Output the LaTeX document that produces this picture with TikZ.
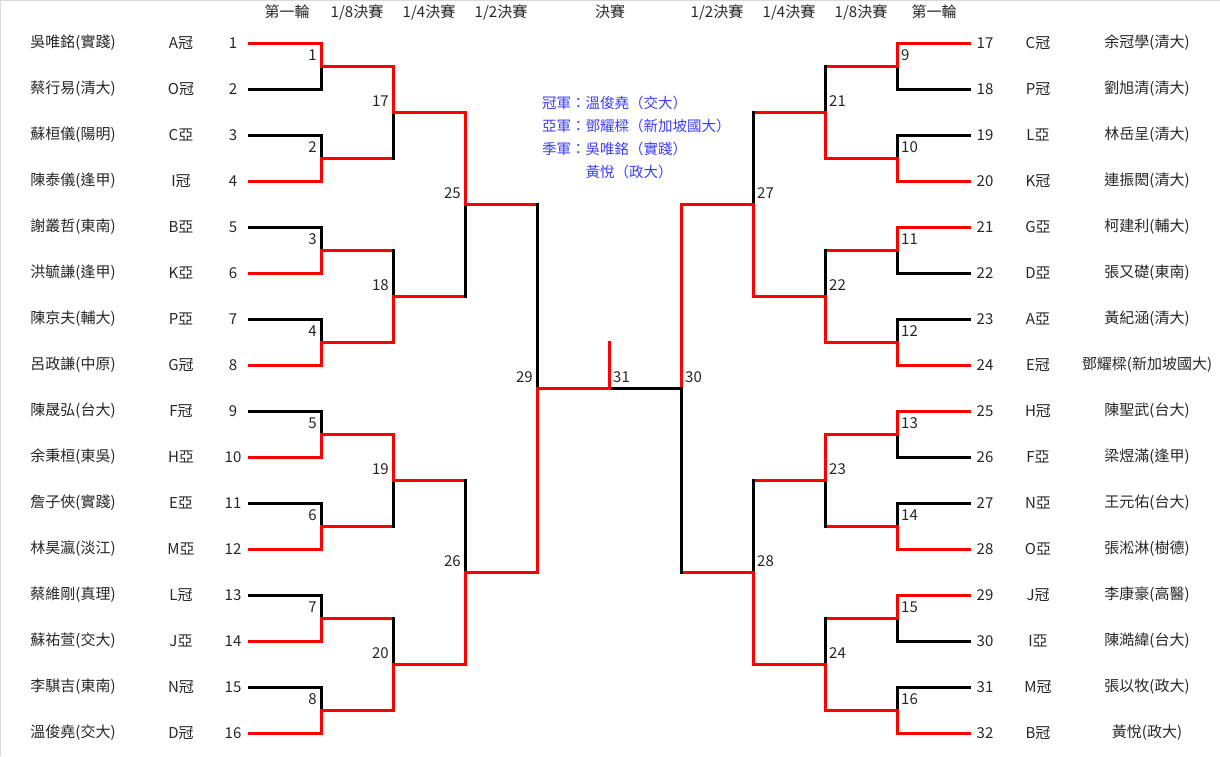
\documentclass[tikz,border=0pt]{standalone}
\usepackage{fontspec}
\setmainfont{Noto Sans CJK TC}
\definecolor{medal}{RGB}{60,60,255}
\tikzset{
  win/.style={draw=red, line width=3pt, line cap=rect},
  lose/.style={draw=black, line width=3pt, line cap=rect},
  frame/.style={draw=black!15, line width=2pt},
  txt/.style={text=black!85, inner sep=0pt, font=\fontsize{15}{18}\selectfont},
  lbl/.style={txt, font=\fontsize{15}{17}\selectfont},
  podium/.style={text=medal, inner sep=0pt, anchor=west, font=\fontsize{14.5}{17}\selectfont},
}

\begin{document}
\begin{tikzpicture}[x=1pt,y=-1pt]
          \useasboundingbox (0,0) rectangle (1220,756);
          \draw[frame] (0,756) -- (0,0) -- (1220,0);
          % round headings
          \node[txt] (hL1) at (287,12) {第一輪};
          \node[txt] (hL2) at (357,12) {1/8決賽};
          \node[txt] (hL3) at (429,12) {1/4決賽};
          \node[txt] (hL4) at (501,12) {1/2決賽};
          \node[txt] (hF)  at (610,12) {決賽};
          \node[txt] (hR4) at (717,12) {1/2決賽};
          \node[txt] (hR3) at (789,12) {1/4決賽};
          \node[txt] (hR2) at (861,12) {1/8決賽};
          \node[txt] (hR1) at (934,12) {第一輪};
          % match junctions, left half
          \foreach \m/\x/\y in {1/321/66, 2/321/158, 3/321/250, 4/321/342, 5/321/434, 6/321/526, 7/321/618, 8/321/710,
                                17/393/112, 18/393/296, 19/393/480, 20/393/664, 25/465/204, 26/465/572, 29/537/388}{
            \coordinate (m\m) at (\x,\y);
            \node[lbl, anchor=east] (n\m) at (\x-4,\y-11) {\m};
          }
          % match junctions, right half
          \foreach \m/\x/\y in {9/897/66, 10/897/158, 11/897/250, 12/897/342, 13/897/434, 14/897/526, 15/897/618, 16/897/710,
                                21/825/112, 22/825/296, 23/825/480, 24/825/664, 27/753/204, 28/753/572, 30/681/388, 31/609/388}{
            \coordinate (m\m) at (\x,\y);
            \node[lbl, anchor=west] (n\m) at (\x+4,\y-11) {\m};
          }
          % players, left half
          \foreach \i/\who/\seed/\c in {1/吳唯銘(實踐)/A冠/win, 2/蔡行易(清大)/O冠/lose, 3/蘇桓儀(陽明)/C亞/lose, 4/陳泰儀(逢甲)/I冠/win,
                                        5/謝叢哲(東南)/B亞/lose, 6/洪毓謙(逢甲)/K亞/win, 7/陳京夫(輔大)/P亞/lose, 8/呂政謙(中原)/G冠/win,
                                        9/陳晟弘(台大)/F冠/lose, 10/余秉桓(東吳)/H亞/win, 11/詹子俠(實踐)/E亞/lose, 12/林昊瀛(淡江)/M亞/win,
                                        13/蔡維剛(真理)/L冠/lose, 14/蘇祐萱(交大)/J亞/win, 15/李騏吉(東南)/N冠/lose, 16/溫俊堯(交大)/D冠/win}{
            \pgfmathsetmacro\y{43+46*(\i-1)}
            \pgfmathtruncatemacro\k{(\i+1)/2}
            \node[txt] (who\i) at (73,\y) {\who};
            \node[txt] (seed\i) at (181,\y) {\seed};
            \node[lbl] (num\i) at (233,\y) {\i};
            \coordinate (e\i) at (249,\y);
            \draw[\c] (e\i) -| (m\k);
          }
          % players, right half
          \foreach \i/\who/\seed/\c in {17/余冠學(清大)/C冠/win, 18/劉旭清(清大)/P冠/lose, 19/林岳呈(清大)/L亞/lose, 20/連振閎(清大)/K冠/win,
                                        21/柯建利(輔大)/G亞/win, 22/張又礎(東南)/D亞/lose, 23/黃紀涵(清大)/A亞/lose, 24/鄧耀樑(新加坡國大)/E冠/win,
                                        25/陳聖武(台大)/H冠/win, 26/梁煜滿(逢甲)/F亞/lose, 27/王元佑(台大)/N亞/lose, 28/張淞淋(樹德)/O亞/win,
                                        29/李康豪(高醫)/J冠/win, 30/陳澔緯(台大)/I亞/lose, 31/張以牧(政大)/M冠/lose, 32/黃悅(政大)/B冠/win}{
            \pgfmathsetmacro\y{43+46*(\i-17)}
            \pgfmathtruncatemacro\k{(\i+1)/2}
            \node[txt] (who\i) at (1147,\y) {\who};
            \node[txt] (seed\i) at (1038,\y) {\seed};
            \node[lbl] (num\i) at (985,\y) {\i};
            \coordinate (e\i) at (969,\y);
            \draw[\c] (e\i) -| (m\k);
          }
          % later rounds: match/top/bottom/top half/bottom half
          \foreach \m/\a/\b/\ta/\tb in {17/1/2/win/lose, 18/3/4/lose/win, 19/5/6/win/lose, 20/7/8/lose/win,
                                        25/17/18/win/lose, 26/19/20/lose/win, 29/25/26/lose/win,
                                        21/9/10/lose/win, 22/11/12/lose/win, 23/13/14/win/lose, 24/15/16/lose/win,
                                        27/21/22/lose/win, 28/23/24/lose/win, 30/27/28/win/lose}{
            \draw[win] (m\a) -- (m\a -| m\m) (m\b) -- (m\b -| m\m);
            \draw[\ta] (m\a -| m\m) -- (m\m);
            \draw[\tb] (m\b -| m\m) -- (m\m);
          }
          % final
          \coordinate (cup) at (609,342);
          \draw[lose] (m30) -- (m31);
          \draw[win] (m29) -- (m31) -- (cup);
          % podium
          \node[podium] (gold)    at (542,103) {冠軍：溫俊堯（交大）};
          \node[podium] (silver)  at (542,126) {亞軍：鄧耀樑（新加坡國大）};
          \node[podium] (bronzeA) at (542,149) {季軍：吳唯銘（實踐）};
          \node[podium] (bronzeB) at (585.5,172) {黃悅（政大）};
        \end{tikzpicture}
\end{document}
